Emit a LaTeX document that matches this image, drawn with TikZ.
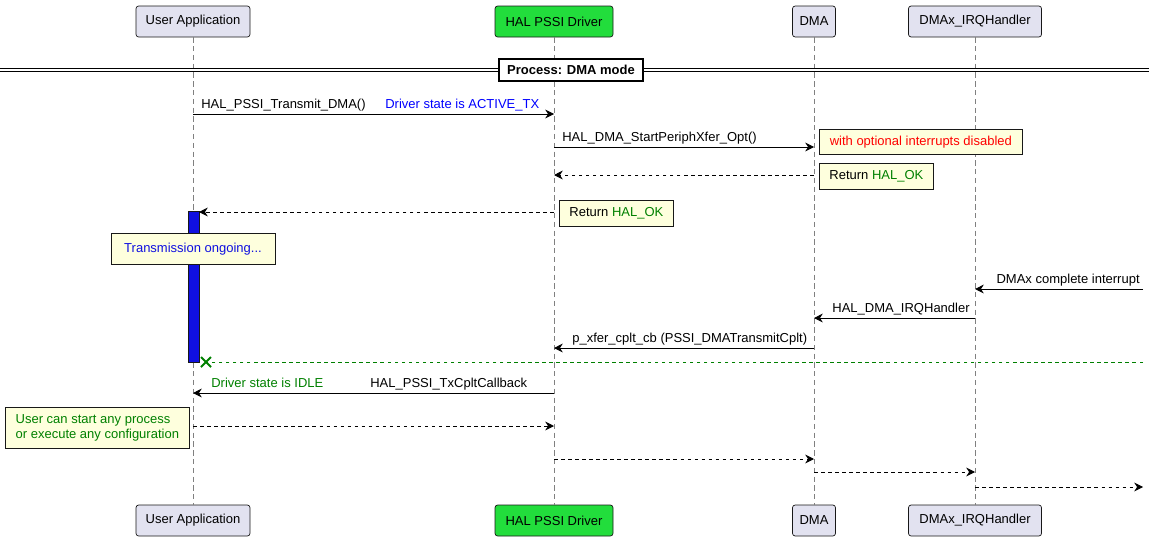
\documentclass[tikz,border=0pt]{standalone}
\usepackage{fontspec}
\setmainfont{Liberation Sans}
\usetikzlibrary{arrows.meta,shapes.misc,shapes.geometric,calc}
\definecolor{partbg}{HTML}{E2E2F0}
\definecolor{partline}{HTML}{181818}
\definecolor{halgreen}{HTML}{22DD3C}
\definecolor{notebg}{HTML}{FEFFDD}
\definecolor{okgreen}{HTML}{008000}
\definecolor{actblue}{HTML}{1010E0}
\tikzset{
  part/.style={draw=partline, fill=partbg, rounded corners=1.5pt, minimum height=31*0.02cm, inner xsep=4pt, font=\fontsize{7.4}{9}\selectfont},
  life/.style={draw=gray, dash pattern=on 3pt off 2pt, line width=0.4pt},
  msg/.style={-{Stealth[length=5pt,width=5pt]}, line width=0.5pt},
  reply/.style={msg, dash pattern=on 2pt off 2pt},
  lbl/.style={font=\fontsize{7.4}{9}\selectfont, inner sep=0pt},
  note/.style={draw=partline, fill=notebg, line width=0.4pt, font=\fontsize{7.4}{9}\selectfont, align=left, inner sep=3pt, anchor=north west},
}
\begin{document}
\begin{tikzpicture}[x=0.02cm, y=-0.02cm]
\useasboundingbox (0,0) rectangle (1149,541);
% participants
\foreach \n/\x/\w/\t/\c in {usr/193/114/User Application/partbg, hal/554/118/HAL PSSI Driver/halgreen, dma/814/39/DMA/partbg, irq/975/133/DMAx\_IRQHandler/partbg}{
  \node[part, fill=\c, minimum width=\w*0.02cm] (\n) at (\x,21.5) {\t};
  \node[part, fill=\c, minimum width=\w*0.02cm] (\n b) at (\x,520.5) {\t};
  \draw[life] (\n) -- (\n b);
}
\coordinate (rgt) at (1143,0);
% separator
\draw[line width=0.5pt] (0,68.5) -- (1149,68.5) (0,71.5) -- (1149,71.5);
\node[draw, line width=1pt, fill=white, font=\bfseries\fontsize{7.4}{9}\selectfont, minimum width=144*0.02cm, minimum height=22*0.02cm] (sep) at (571,70) {Process: DMA mode};
% activation
\fill[actblue] (188,211) rectangle (199,362);
\draw[partline, line width=0.4pt] (188,211) rectangle (199,362);
% messages
\coordinate (m1) at (0,114);
\draw[msg] (usr |- m1) -- (hal |- m1);
\node[lbl, anchor=base west] (t1) at (201,108) {HAL\_PSSI\_Transmit\_DMA()};
\node[lbl, anchor=base west, text=blue] (t1b) at (385,108) {Driver state is ACTIVE\_TX};
\coordinate (m2) at (0,147);
\draw[msg] (hal |- m2) -- (dma |- m2);
\node[lbl, anchor=base west] (t2) at (562,141) {HAL\_DMA\_StartPeriphXfer\_Opt()};
\node[note, minimum width=203*0.02cm, minimum height=25*0.02cm, text=red] (n2) at (819,129) {with optional interrupts disabled};
\coordinate (m3) at (0,175);
\draw[reply] (dma |- m3) -- (hal |- m3);
\node[note, minimum width=114*0.02cm, minimum height=26*0.02cm] (n3) at (819,163) {Return \textcolor{okgreen}{HAL\_OK}};
\coordinate (m4) at (0,212);
\draw[reply] (hal |- m4) -- (199,212);
\node[note, minimum width=114*0.02cm, minimum height=26*0.02cm] (n4) at (559,200) {Return \textcolor{okgreen}{HAL\_OK}};
\node[draw=partline, fill=notebg, chamfered rectangle, chamfered rectangle xsep=8pt, chamfered rectangle corners={west,east}, inner sep=2pt, line width=0.4pt, text=actblue, font=\fontsize{7.4}{9}\selectfont] (hx) at (193,249) {Transmission ongoing...};
\coordinate (m5) at (0,289);
\draw[msg] (rgt |- m5) -- (irq |- m5);
\node[lbl, anchor=base east] (t5) at (1140,283) {DMAx complete interrupt};
\coordinate (m6) at (0,318);
\draw[msg] (irq |- m6) -- (dma |- m6);
\node[lbl, anchor=base west] (t6) at (832,312) {HAL\_DMA\_IRQHandler};
\coordinate (m7) at (0,348);
\draw[msg] (dma |- m7) -- (hal |- m7);
\node[lbl, anchor=base west] (t7) at (572,342) {p\_xfer\_cplt\_cb (PSSI\_DMATransmitCplt)};
\coordinate (m8) at (206,362);
\draw[okgreen, line width=0.5pt, dash pattern=on 2pt off 2pt] (rgt |- m8) -- (m8);
\draw[okgreen, line width=1.2pt] ($(m8)+(-5,-5)$) -- ($(m8)+(5,5)$) ($(m8)+(-5,5)$) -- ($(m8)+(5,-5)$);
\coordinate (m9) at (0,393);
\draw[msg] (hal |- m9) -- (usr |- m9);
\node[lbl, anchor=base west, text=okgreen] (t9a) at (211,387) {Driver state is IDLE};
\node[lbl, anchor=base west] (t9) at (370,387) {HAL\_PSSI\_TxCpltCallback};
\coordinate (m10) at (0,426);
\draw[reply] (usr |- m10) -- (hal |- m10);
\node[note, minimum width=184*0.02cm, minimum height=41*0.02cm, text=okgreen] (n10) at (5,407) {User can start any process\\or execute any configuration};
\coordinate (m11) at (0,459);
\draw[reply] (hal |- m11) -- (dma |- m11);
\coordinate (m12) at (0,472);
\draw[reply] (dma |- m12) -- (irq |- m12);
\coordinate (m13) at (0,487);
\draw[reply] (irq |- m13) -- (rgt |- m13);
\end{tikzpicture}
\end{document}
